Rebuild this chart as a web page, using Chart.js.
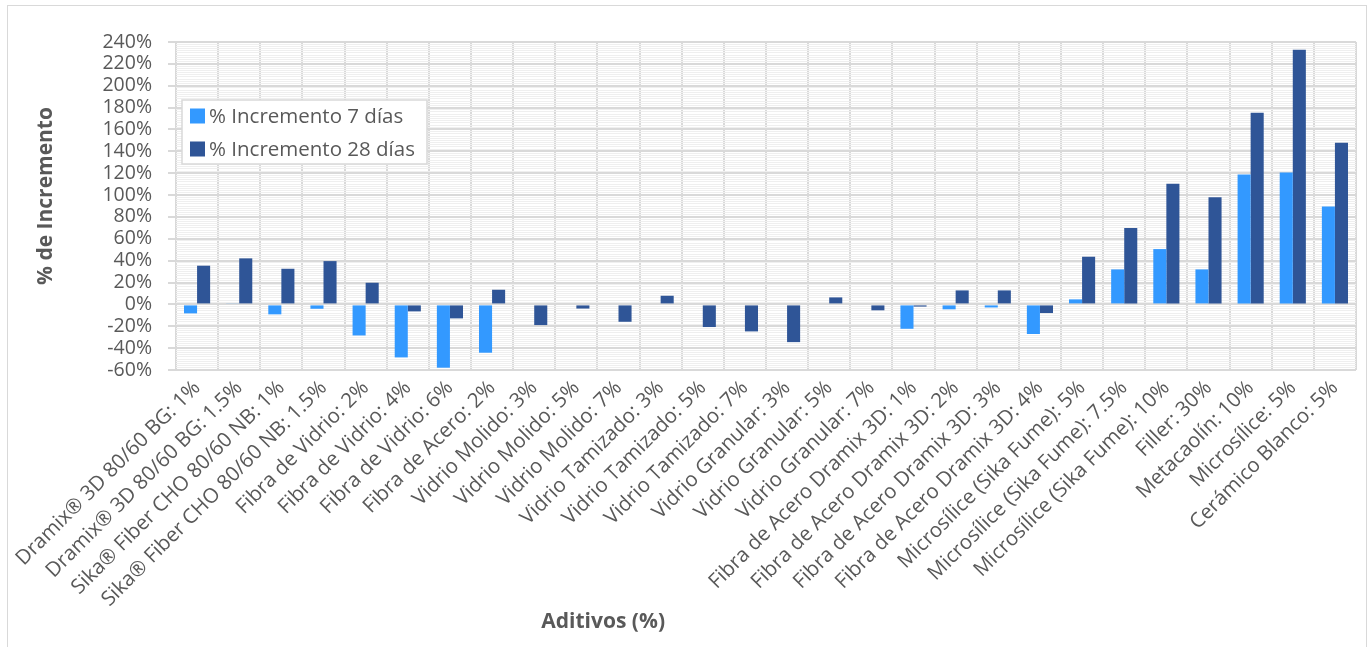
<!DOCTYPE html>
<html><head><meta charset="utf-8">
<script src="https://cdn.jsdelivr.net/npm/chart.js@4.4.1/dist/chart.umd.min.js"></script>
<style>
html,body{margin:0;padding:0;background:#fff;overflow:hidden;}
#frame{position:absolute;left:7px;top:5px;width:1360px;height:680px;border:1.5px solid #d9d9d9;box-sizing:border-box;}
#wrap{position:absolute;left:0;top:0;width:1371px;height:647px;}
</style></head><body>
<div id="frame"></div>
<div id="wrap"><canvas id="c" width="1371" height="647"></canvas></div>
<script>
const categories = [
  'Dramix® 3D 80/60 BG: 1%', 'Dramix® 3D 80/60 BG: 1.5%',
  'Sika® Fiber CHO 80/60 NB: 1%', 'Sika® Fiber CHO 80/60 NB: 1.5%',
  'Fibra de Vidrio: 2%', 'Fibra de Vidrio: 4%', 'Fibra de Vidrio: 6%',
  'Fibra de Acero: 2%',
  'Vidrio Molido: 3%', 'Vidrio Molido: 5%', 'Vidrio Molido: 7%',
  'Vidrio Tamizado: 3%', 'Vidrio Tamizado: 5%', 'Vidrio Tamizado: 7%',
  'Vidrio Granular: 3%', 'Vidrio Granular: 5%', 'Vidrio Granular: 7%',
  'Fibra de Acero Dramix 3D: 1%', 'Fibra de Acero Dramix 3D: 2%',
  'Fibra de Acero Dramix 3D: 3%', 'Fibra de Acero Dramix 3D: 4%',
  'Microsílice (Sika Fume): 5%', 'Microsílice (Sika Fume): 7.5%', 'Microsílice (Sika Fume): 10%',
  'Filler: 30%', 'Metacaolín: 10%', 'Microsílice: 5%', 'Cerámico Blanco: 5%'
];
const incremento7 = [-8.2, 0.8, -9.1, -4.0, -28.4, -48.5, -57.9, -44.2,
  0, 0, 0, 0, 0, 0, 0, 0, 0,
  -22.3, -4.5, -2.8, -27.1, 4.6, 32.0, 50.6, 32.0, 118.9, 120.7, 89.6];
const incremento28 = [35.4, 42.1, 32.6, 39.6, 19.8, -6.4, -12.8, 13.4,
  -18.9, -3.8, -15.9, 7.9, -20.7, -24.7, -34.5, 6.4, -5.4,
  -2.0, 12.8, 12.8, -7.9, 43.6, 69.8, 110.4, 97.9, 175.3, 232.9, 147.9];
const seriesNames = ['% Incremento 7 días', '% Incremento 28 días'];
const yMin = -60, yMax = 240, yMajorStep = 20, yMinorStep = 2;
const yAxisTitle = '% de Incremento';
const xAxisTitle = 'Aditivos (%)';

const FONT = "'Open Sans', sans-serif";
const TEXT = '#595959';

const titlesPlugin = {
  id: 'titles',
  afterDraw(chart) {
    const ctx = chart.ctx, a = chart.chartArea;
    ctx.save();
    ctx.fillStyle = TEXT;
    ctx.font = "bold 21px " + FONT;
    ctx.textAlign = 'center';
    ctx.textBaseline = 'middle';
    ctx.fillText(xAxisTitle, a.left + (a.right - a.left) * 0.362, 622);
    ctx.translate(46, (a.top + a.bottom) / 2 - 10);
    ctx.rotate(-Math.PI / 2);
    ctx.fillText(yAxisTitle, 0, 0);
    ctx.restore();
  }
};

const legendPlugin = {
  id: 'boxLegend',
  afterDraw(chart) {
    const ctx = chart.ctx, a = chart.chartArea;
    const x0 = a.left + 6, y0 = a.top + 58, w = 245, h = 64;
    ctx.save();
    ctx.fillStyle = '#ffffff';
    ctx.fillRect(x0, y0, w, h);
    ctx.strokeStyle = '#d9d9d9';
    ctx.lineWidth = 1.5;
    ctx.strokeRect(x0, y0, w, h);
    ctx.font = "20.5px " + FONT;
    ctx.textBaseline = 'middle';
    ctx.textAlign = 'left';
    chart.data.datasets.forEach((ds, i) => {
      const cy = y0 + 16 + i * 33;
      ctx.fillStyle = ds.backgroundColor;
      ctx.fillRect(x0 + 8, cy - 7.5, 15, 15);
      ctx.fillStyle = TEXT;
      ctx.fillText(ds.label, x0 + 27, cy + 1);
    });
    ctx.restore();
  }
};

new Chart(document.getElementById('c'), {
  type: 'bar',
  data: {
    labels: categories,
    datasets: [
      { label: seriesNames[0], data: incremento7, backgroundColor: '#3399ff', borderWidth: 0 },
      { label: seriesNames[1], data: incremento28, backgroundColor: '#2f5597', borderWidth: 0 }
    ]
  },
  plugins: [titlesPlugin, legendPlugin],
  options: {
    responsive: false,
    animation: false,
    devicePixelRatio: 1,
    layout: { padding: { left: 0, top: 42, right: 15, bottom: 0 } },
    datasets: { bar: { categoryPercentage: 0.62, barPercentage: 1.0 } },
    plugins: { legend: { display: false }, tooltip: { enabled: false } },
    scales: {
      x: {
        afterFit(scale) { scale.height = 277; },
        grid: { color: '#d9d9d9', lineWidth: 2, drawTicks: false, offset: true },
        border: { display: false },
        ticks: {
          autoSkip: false, maxRotation: 45, minRotation: 45, padding: 6,
          color: TEXT, font: { family: FONT, size: 20.5 }
        }
      },
      y: {
        min: yMin, max: yMax,
        afterFit(scale) { scale.width = 176; },
        afterBuildTicks(scale) {
          const t = [];
          for (let v = yMin; v <= yMax; v += yMinorStep) t.push({ value: v });
          scale.ticks = t;
        },
        grid: {
          color: c => (c.tick && c.tick.value % yMajorStep === 0) ? '#d9d9d9' : '#efefef',
          lineWidth: c => (c.tick && c.tick.value % yMajorStep === 0) ? 2 : 1,
          tickColor: c => (c.tick && c.tick.value % yMajorStep === 0) ? '#d9d9d9' : 'rgba(0,0,0,0)',
          tickLength: 8
        },
        border: { display: false },
        ticks: {
          autoSkip: false, padding: 16, color: TEXT,
          font: { family: FONT, size: 19.5 },
          callback: v => (v % yMajorStep === 0) ? v + '%' : ''
        }
      }
    }
  }
});
</script>
</body></html>
